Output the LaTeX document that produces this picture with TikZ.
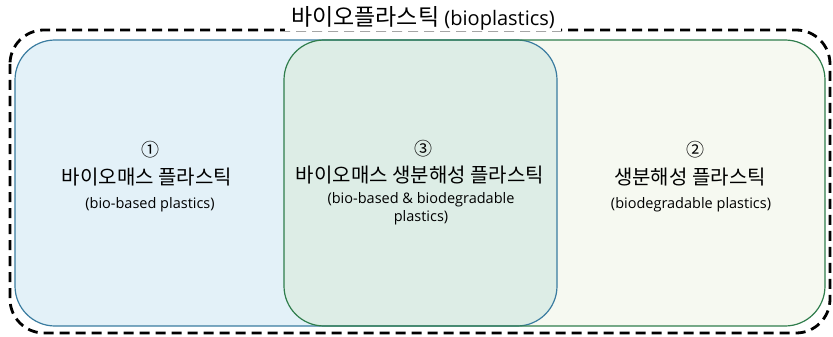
\documentclass[tikz,border=0pt]{standalone}
\usepackage{fontspec}
\setmainfont{Noto Sans CJK KR}
\newfontfamily\latinf{Open Sans}
\begin{document}
\begin{tikzpicture}[x=1pt,y=-1pt,
  outer/.style={draw=black,line width=2.8pt,dash pattern=on 10pt off 6pt,rounded corners=34pt},
  boxblue/.style={draw=lblue,line width=1.2pt,rounded corners=40pt},
  boxgreen/.style={draw=lgreen,line width=1.2pt,rounded corners=40pt},
  kor/.style={font=\fontsize{20}{22}\selectfont,inner sep=0pt},
  eng/.style={font=\latinf\fontsize{14.5}{18}\selectfont,inner sep=0pt,align=center},
  num/.style={font=\fontsize{18}{20}\selectfont,inner sep=0pt}]
\definecolor{fblue}{HTML}{E3F1F8}
\definecolor{fmid}{HTML}{DDEDE6}
\definecolor{fright}{HTML}{F6F9F1}
\definecolor{lblue}{HTML}{3A7CA0}
\definecolor{lgreen}{HTML}{2F7D4C}
\useasboundingbox (0,0) rectangle (833,337);
% outer dashed frame
\draw[outer] (10,30) rectangle (830,333);
% fills
\fill[fright,rounded corners=40pt] (284,40) rectangle (825,326);
\fill[fblue,rounded corners=40pt] (15,40) rectangle (557,326);
\begin{scope}
  \clip[rounded corners=40pt] (284,40) rectangle (825,326);
  \fill[fmid,rounded corners=40pt] (15,40) rectangle (557,326);
\end{scope}
% outlines
\draw[boxblue] (15,40) rectangle (557,326);
\draw[boxgreen] (284,40) rectangle (825,326);
% title
\node[fill=white,inner xsep=6pt,inner ysep=1pt] (title) at (423,18)
  {\fontsize{23}{25}\selectfont 바이오플라스틱 {\latinf\fontsize{20}{22}\selectfont (bioplastics)}};
% left
\node[num] (n1) at (150,150) {①};
\node[kor] (k1) at (147,177) {바이오매스 플라스틱};
\node[eng] (e1) at (150,205) {(bio-based plastics)};
% middle
\node[num] (n3) at (423,149) {③};
\node[kor] (k3) at (420,175) {바이오매스 생분해성 플라스틱};
\node[eng] (e3) at (421,208.5) {(bio-based \& biodegradable\\plastics)};
% right
\node[num] (n2) at (695,150) {②};
\node[kor] (k2) at (690,177) {생분해성 플라스틱};
\node[eng] (e2) at (691,205) {(biodegradable plastics)};
\end{tikzpicture}
\end{document}
